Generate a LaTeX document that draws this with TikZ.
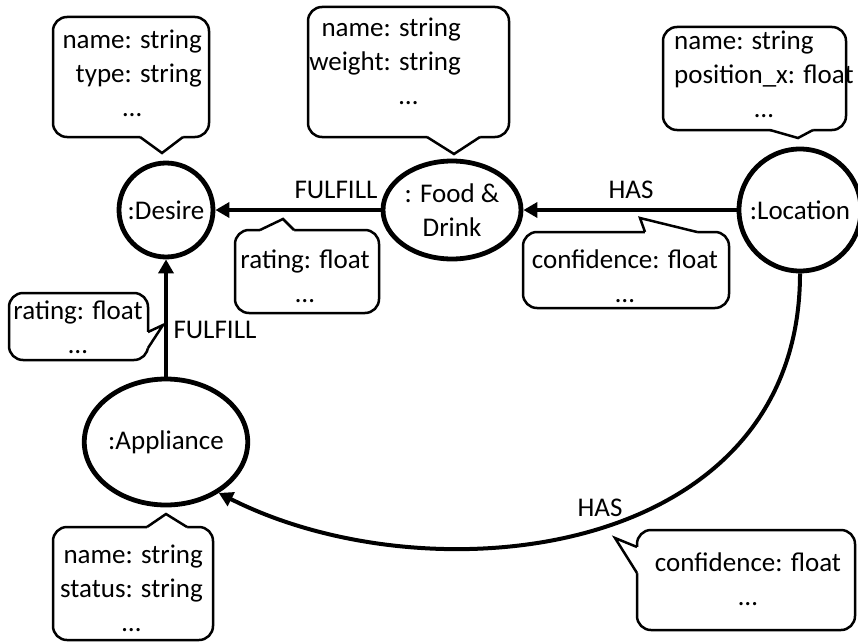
\documentclass[tikz,border=0pt]{standalone}
\usepackage{fontspec}
\setmainfont{Carlito}
\usetikzlibrary{arrows.meta,shapes.geometric}
\begin{document}
\begin{tikzpicture}[x=1pt,y=-1pt,
  every node/.style={font=\fontsize{27}{34}\selectfont},
  ent/.style={draw, line width=4.8pt, inner sep=0pt},
  cl/.style={draw, line width=2.5pt, rounded corners=14pt, fill=white, inner sep=0pt},
  ptr/.style={draw, line width=2.5pt, line join=miter},
  arr/.style={line width=4pt, -{Triangle[length=14pt,width=15pt]}},
  lbl/.style={inner sep=0pt},
  txt/.style={inner sep=0pt}]
\useasboundingbox (0,0) rectangle (858,642);

% entities
\node[ent, circle, minimum size=94pt] (desire) at (166,210) {:Desire};
\node[ent, ellipse, minimum width=138pt, minimum height=98pt, align=center] (food) at (452,210) {: Food \&\\Drink};
\node[ent, circle, minimum size=122pt] (loc) at (800,210) {:Location};
\node[ent, ellipse, minimum width=157pt, minimum height=126pt] (app) at (166,442) {:Appliance};

% connectors
\draw[arr] (food.west) -- (desire.east);
\draw[arr] (loc.west) -- (food.east);
\draw[arr] (app.north) -- (desire.south);
\draw[arr] (loc.south) .. controls (800,560) and (430,600) .. (app.-44);

\node[lbl] (l1) at (336,190) {FULFILL};
\node[lbl] (l2) at (631,190) {HAS};
\node[lbl] (l3) at (215,330) {FULFILL};
\node[lbl] (l4) at (600,508) {HAS};

% callout boxes
\node[cl, minimum width=156pt, minimum height=120pt] (cD) at (131,77) {};
\node[cl, minimum width=201pt, minimum height=130pt] (cF) at (408.5,72) {};
\node[cl, minimum width=183pt, minimum height=103pt] (cL) at (754.5,78.5) {};
\node[cl, minimum width=144pt, minimum height=83pt] (cR1) at (307,271.5) {};
\node[cl, minimum width=206pt, minimum height=76pt] (cC1) at (626,270) {};
\node[cl, minimum width=139pt, minimum height=67pt] (cR2) at (78.5,326.5) {};
\node[cl, minimum width=160pt, minimum height=113pt] (cA) at (133,583.5) {};
\node[cl, minimum width=218pt, minimum height=100pt] (cC2) at (746,580) {};

% pointers
\fill[white] (140,133) -- (140,137) -- (162,153) -- (183,137) -- (183,133) -- cycle;
\draw[ptr] (140,137) -- (162,153) -- (183,137);
\fill[white] (427,133) -- (427,137) -- (454,154) -- (480,137) -- (480,133) -- cycle;
\draw[ptr] (427,137) -- (454,154) -- (480,137);
\fill[white] (770,126) -- (770,130) -- (798,138) -- (813,130) -- (813,126) -- cycle;
\draw[ptr] (770,130) -- (798,138) -- (813,130);
\fill[white] (260,234) -- (260,230) -- (283,219) -- (294,230) -- (294,234) -- cycle;
\draw[ptr] (260,230) -- (283,219) -- (294,230);
\fill[white] (645,236) -- (645,232) -- (640,218) -- (697,232) -- (697,236) -- cycle;
\draw[ptr] (645,232) -- (640,218) -- (697,232);
\fill[white] (144,332) -- (148,332) -- (163,325) -- (148,348) -- (144,348) -- cycle;
\draw[ptr] (148,332) -- (163,325) -- (148,348);
\fill[white] (147,531) -- (147,527) -- (166,514) -- (187,527) -- (187,531) -- cycle;
\draw[ptr] (147,527) -- (166,514) -- (187,527);
\fill[white] (641,547) -- (637,547) -- (615,538) -- (637,573) -- (641,573) -- cycle;
\draw[ptr] (637,547) -- (615,538) -- (637,573);

% callout texts
\node[txt, anchor=north east] (tD) at (202,24.5) {\begin{tabular}{@{}r@{}}name: string\\type: string\\\multicolumn{1}{@{}c@{}}{…}\end{tabular}};
\node[txt, anchor=north east] (tF) at (461,12.5) {\begin{tabular}{@{}r@{}}name: string\\weight: string\\\multicolumn{1}{@{}c@{}}{\hspace{47pt}…}\end{tabular}};
\node[txt, anchor=north west] (tL) at (674,25.5) {\begin{tabular}{@{}l@{}}name: string\\position\_x: float\\\multicolumn{1}{@{}c@{}}{…\hspace{47pt}}\end{tabular}};
\node[txt, anchor=north] (tR1) at (305,244.5) {\begin{tabular}{@{}c@{}}rating: float\\…\end{tabular}};
\node[txt, anchor=north] (tC1) at (625,244.5) {\begin{tabular}{@{}c@{}}confidence: float\\…\end{tabular}};
\node[txt, anchor=north] (tR2) at (78,295.5) {\begin{tabular}{@{}c@{}}rating: float\\…\end{tabular}};
\node[txt, anchor=north east] (tA) at (203,539.5) {\begin{tabular}{@{}r@{}}name: string\\status: string\\\multicolumn{1}{@{}c@{}}{…}\end{tabular}};
\node[txt, anchor=north] (tC2) at (748,547.5) {\begin{tabular}{@{}c@{}}confidence: float\\…\end{tabular}};
\end{tikzpicture}
\end{document}
